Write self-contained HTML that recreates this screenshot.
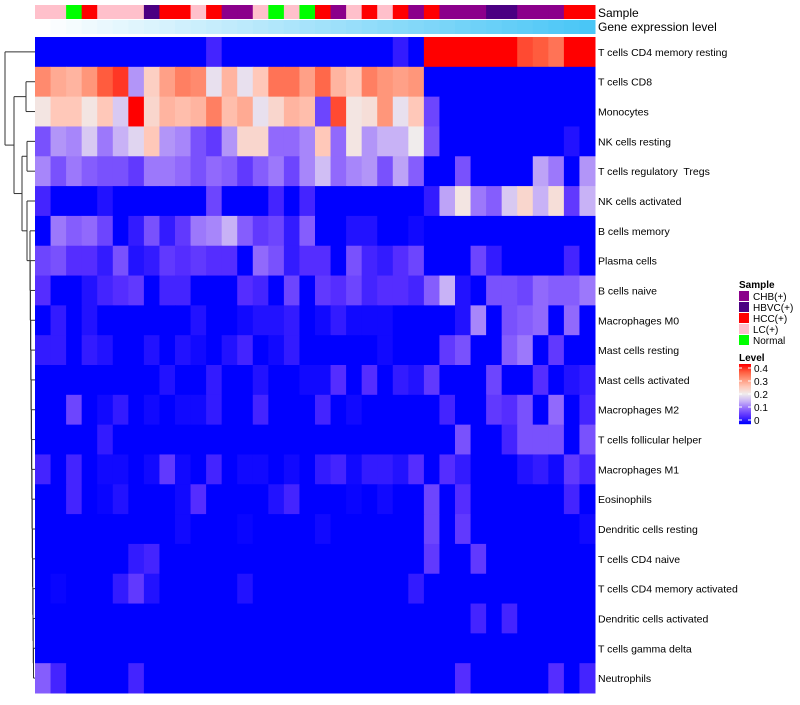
<!DOCTYPE html>
<html><head><meta charset="utf-8"><style>
body{margin:0;background:#fff;font-family:"Liberation Sans",sans-serif;}
svg text{font-family:"Liberation Sans",sans-serif;white-space:pre;}
</style></head><body>
<svg id="chart" width="800" height="700" xmlns="http://www.w3.org/2000/svg">
<g id="dendro"></g>
<g id="anno"></g>
<g id="cells"></g>
<g id="rowlabels"></g>
<text x="598" y="17" font-size="12">Sample</text>
<text x="598" y="31" font-size="12">Gene expression level</text>
<g id="legend"></g>
</svg>
<script>
const rowNames=["T cells CD4 memory resting","T cells CD8","Monocytes","NK cells resting","T cells regulatory  Tregs","NK cells activated","B cells memory","Plasma cells","B cells naive","Macrophages M0","Mast cells resting","Mast cells activated","Macrophages M2","T cells follicular helper","Macrophages M1","Eosinophils","Dendritic cells resting","T cells CD4 naive","T cells CD4 memory activated","Dendritic cells activated","T cells gamma delta","Neutrophils"];
const sampleGroups=["LC(+)","LC(+)","Normal","HCC(+)","LC(+)","LC(+)","LC(+)","HBVC(+)","HCC(+)","HCC(+)","LC(+)","HCC(+)","CHB(+)","CHB(+)","LC(+)","Normal","LC(+)","Normal","HCC(+)","CHB(+)","LC(+)","HCC(+)","LC(+)","HCC(+)","CHB(+)","HCC(+)","CHB(+)","CHB(+)","CHB(+)","HBVC(+)","HBVC(+)","CHB(+)","CHB(+)","CHB(+)","HCC(+)","HCC(+)"];
const groupNames=["CHB(+)","HBVC(+)","HCC(+)","LC(+)","Normal"];
const groupColors=["#8B008B","#4B0082","#FF0000","#FFC0CB","#00FF00"];
const legendTicks=[0,0.1,0.2,0.3,0.4];
const r0=[0,0,0,0,0,0,0,0,0,0,0,0.04,0,0,0,0,0,0,0,0,0,0,0,0.03,0,0.4,0.4,0.4,0.4,0.4,0.4,0.36,0.35,0.33,0.4,0.4];
const r1=[0.31,0.28,0.27,0.30,0.35,0.37,0.13,0.24,0.29,0.32,0.31,0.19,0.27,0.19,0.25,0.33,0.33,0.29,0.34,0.27,0.25,0.32,0.30,0.29,0.30,0,0,0,0,0,0,0,0,0,0,0];
const r2=[0.21,0.25,0.25,0.21,0.25,0.17,0.4,0.23,0.27,0.26,0.27,0.32,0.26,0.28,0.19,0.23,0.27,0.26,0.07,0.36,0.21,0.22,0.30,0.19,0.25,0.07,0,0,0,0,0,0,0,0,0,0];
const r3=[0.08,0.13,0.12,0.17,0.11,0.15,0.18,0.25,0.13,0.12,0.08,0.06,0.13,0.23,0.23,0.10,0.10,0.12,0.25,0.10,0.21,0.13,0.15,0.15,0.20,0.08,0,0,0,0,0,0,0,0,0.02,0];
const r4=[0.12,0.08,0.11,0.09,0.08,0.08,0.06,0.11,0.11,0.10,0.08,0.10,0.09,0.06,0.09,0.11,0.07,0.12,0.16,0.10,0.12,0.13,0.08,0.14,0.09,0,0,0.08,0,0,0,0,0.14,0.11,0,0.13];
const r5=[0.04,0,0,0,0.02,0,0,0,0,0,0,0.07,0,0,0,0.04,0,0.04,0,0,0,0,0,0,0,0.03,0.14,0.21,0.11,0.09,0.17,0.23,0.15,0.22,0.06,0.15];
const r6=[0,0.11,0.09,0.10,0.07,0,0.03,0.08,0.03,0.06,0.11,0.12,0.15,0.09,0.06,0.07,0.03,0.09,0,0,0.02,0.02,0,0,0.01,0,0,0,0,0,0,0,0,0,0,0];
const r7=[0.07,0.08,0.05,0.05,0.03,0.08,0.02,0.03,0.06,0.05,0.06,0.05,0.05,0,0.10,0.08,0.03,0.05,0.05,0,0.08,0.04,0.03,0.05,0.07,0,0,0,0.07,0.03,0,0,0,0,0.04,0];
const r8=[0.05,0,0,0.02,0.04,0.05,0.06,0,0.04,0.04,0,0,0,0.05,0.04,0,0.07,0,0.06,0.05,0.07,0.04,0.05,0.05,0.04,0.09,0.15,0.02,0,0.08,0.08,0.07,0.10,0.09,0.09,0.11];
const r9=[0,0.03,0,0.02,0,0,0,0,0,0,0.02,0,0,0.01,0.02,0.02,0.03,0,0.01,0.03,0.01,0.01,0.01,0,0,0,0,0.02,0.12,0,0.08,0.09,0.10,0,0.10,0];
const r10=[0.03,0.03,0,0.03,0.02,0,0,0.02,0,0.02,0.01,0,0.02,0.04,0,0.01,0.03,0,0,0,0,0,0.01,0,0,0,0.06,0.08,0,0,0.09,0.11,0,0.06,0,0];
const r11=[0,0,0,0,0,0,0,0,0.02,0,0,0.03,0,0,0.02,0,0,0.01,0.01,0.05,0,0.05,0,0.03,0.02,0.06,0,0,0,0.07,0,0,0.05,0,0.02,0.03];
const r12=[0,0,0.07,0,0.01,0.03,0,0.01,0,0.01,0.01,0.03,0,0,0.04,0,0,0,0.04,0,0.01,0,0,0,0,0,0.04,0,0,0.06,0.05,0.08,0,0.10,0,0.04];
const r13=[0,0,0,0,0.03,0,0,0,0,0,0,0,0,0,0,0,0,0,0,0,0,0,0,0,0,0,0,0.08,0,0,0.04,0.08,0.08,0.08,0,0.08];
const r14=[0.04,0,0.04,0,0.01,0.01,0,0.01,0.06,0.01,0,0.04,0,0.01,0.01,0,0.01,0,0.03,0.04,0.01,0.03,0.03,0.02,0.05,0,0.05,0.03,0,0,0,0.02,0.03,0.01,0.06,0.04];
const r15=[0,0,0.04,0,0.005,0.02,0,0,0,0.01,0.05,0,0,0,0,0.02,0.04,0,0,0,0.005,0,0.01,0,0,0.07,0,0.05,0,0,0,0,0,0,0.04,0];
const r16=[0,0,0,0,0,0,0,0,0,0.01,0,0,0,0.005,0,0,0,0,0.01,0,0,0,0,0,0,0.07,0,0.06,0,0,0,0,0,0,0,0.01];
const r17=[0,0,0,0,0,0,0.03,0.04,0,0,0,0,0,0,0,0,0,0,0,0,0,0,0,0,0,0.06,0,0,0.06,0,0,0,0,0,0,0];
const r18=[0,0.005,0,0,0,0.03,0.06,0.02,0,0,0,0,0,0.02,0,0,0,0,0,0,0,0,0,0,0.03,0,0,0,0,0,0,0,0,0,0,0];
const r19=[0,0,0,0,0,0,0,0,0,0,0,0,0,0,0,0,0,0,0,0,0,0,0,0,0,0,0,0,0.04,0,0.04,0,0,0,0,0];
const r20=[0,0,0,0,0,0,0,0,0,0,0,0,0,0,0,0,0,0,0,0,0,0,0,0,0,0,0,0,0,0,0,0,0,0,0,0];
const r21=[0.09,0.04,0,0,0,0,0.04,0,0,0,0,0,0,0,0,0,0,0,0,0,0,0,0,0,0,0,0,0.05,0,0,0,0,0,0.05,0,0.04];
const values=[r0,r1,r2,r3,r4,r5,r6,r7,r8,r9,r10,r11,r12,r13,r14,r15,r16,r17,r18,r19,r20,r21];

const NS="http://www.w3.org/2000/svg";
const X0=35,X1=595,Y0=37,Y1=693;
const nCol=sampleGroups.length,nRow=rowNames.length;
const cw=(X1-X0)/nCol, rh=(Y1-Y0)/nRow;
const xCol=i=>X0+i*cw, yRow=j=>Y0+j*rh;
const stops=[[0,[0,0,255]],[0.05,[85,45,255]],[0.1,[145,105,252]],[0.15,[200,178,246]],[0.2,[240,236,236]],[0.25,[255,200,185]],[0.3,[255,150,122]],[0.35,[255,92,62]],[0.4,[255,0,0]]];
function color(v){v=Math.max(0,Math.min(0.4,v));for(let k=1;k<stops.length;k++){if(v<=stops[k][0]){const a=stops[k-1],b=stops[k],t=(v-a[0])/(b[0]-a[0]);const c=a[1].map((x,i)=>Math.round(x+(b[1][i]-x)*t));return `rgb(${c})`;}}return "rgb(255,0,0)";}
function mk(tag,attrs,parent){const e=document.createElementNS(NS,tag);for(const k in attrs)e.setAttribute(k,attrs[k]);parent.appendChild(e);return e;}

const cells=document.getElementById('cells');
values.forEach((row,j)=>row.forEach((v,i)=>{
  const r=mk('rect',{x:xCol(i),y:yRow(j),width:cw+0.5,height:rh+0.5,fill:color(v)},cells);
  
  
}));
const rl=document.getElementById('rowlabels');
rowNames.forEach((n,j)=>{
  const t=mk('text',{x:598,y:yRow(j)+rh/2+4,'font-size':10.5},rl);t.textContent=n;
  
  
});
const anno=document.getElementById('anno');
sampleGroups.forEach((g,i)=>{
  const r=mk('rect',{x:xCol(i),y:5,width:cw+0.5,height:14,fill:groupColors[groupNames.indexOf(g)]},anno);
  
  
  const t=i/(nCol-1);
  const c=[255+(74-255)*t,255+(198-255)*t,255+(246-255)*t].map(Math.round);
  const r2=mk('rect',{x:xCol(i),y:20,width:cw+0.5,height:14,fill:`rgb(${c})`},anno);
  
  
});
const dg=document.getElementById('dendro');
function line(x1,y1,x2,y2){const l=mk('line',{x1,y1,x2,y2,stroke:'#333','stroke-width':1},dg);}
function leaf(j){return {x:35,y:yRow(j)+rh/2};}
function join(a,b,x){line(x,a.y,a.x,a.y);line(x,b.y,b.x,b.y);line(x,a.y,x,b.y);return {x,y:(a.y+b.y)/2};}
let D=join(leaf(20),leaf(21),33.5);
for(let k=19;k>=6;k--){D=join(leaf(k),D,30+(k-6)*0.25);}
const C=join(leaf(5),D,27);
const N2=join(leaf(3),leaf(4),27);
const B=join(N2,C,22);
const N1=join(leaf(1),leaf(2),26);
const A=join(N1,B,14);
join(leaf(0),A,5);
const lg=document.getElementById('legend');
let t=mk('text',{x:739,y:288,'font-size':10,'font-weight':'bold'},lg);t.textContent='Sample';

groupNames.forEach((g,i)=>{
  const r=mk('rect',{x:739,y:291+i*11,width:10,height:10,fill:groupColors[i]},lg);
  
  const tt=mk('text',{x:753,y:300+i*11,'font-size':10},lg);tt.textContent=g;
  
});
t=mk('text',{x:739,y:361,'font-size':10,'font-weight':'bold'},lg);t.textContent='Level';

const gy0=364,gy1=424;
for(let k=0;k<60;k++){const v=0.4*(1-k/59);mk('rect',{x:739,y:gy0+k,width:12,height:1.2,fill:color(v)},lg);}
legendTicks.forEach(v=>{
  const y=gy1-4-(v/0.4)*(gy1-gy0-8);
  mk('line',{x1:739,x2:742,y1:y,y2:y,stroke:'#fff'},lg);mk('line',{x1:748,x2:751,y1:y,y2:y,stroke:'#fff'},lg);
  const tt=mk('text',{x:754,y:y+4,'font-size':10},lg);tt.textContent=String(v);
  
});
</script>
</body></html>
